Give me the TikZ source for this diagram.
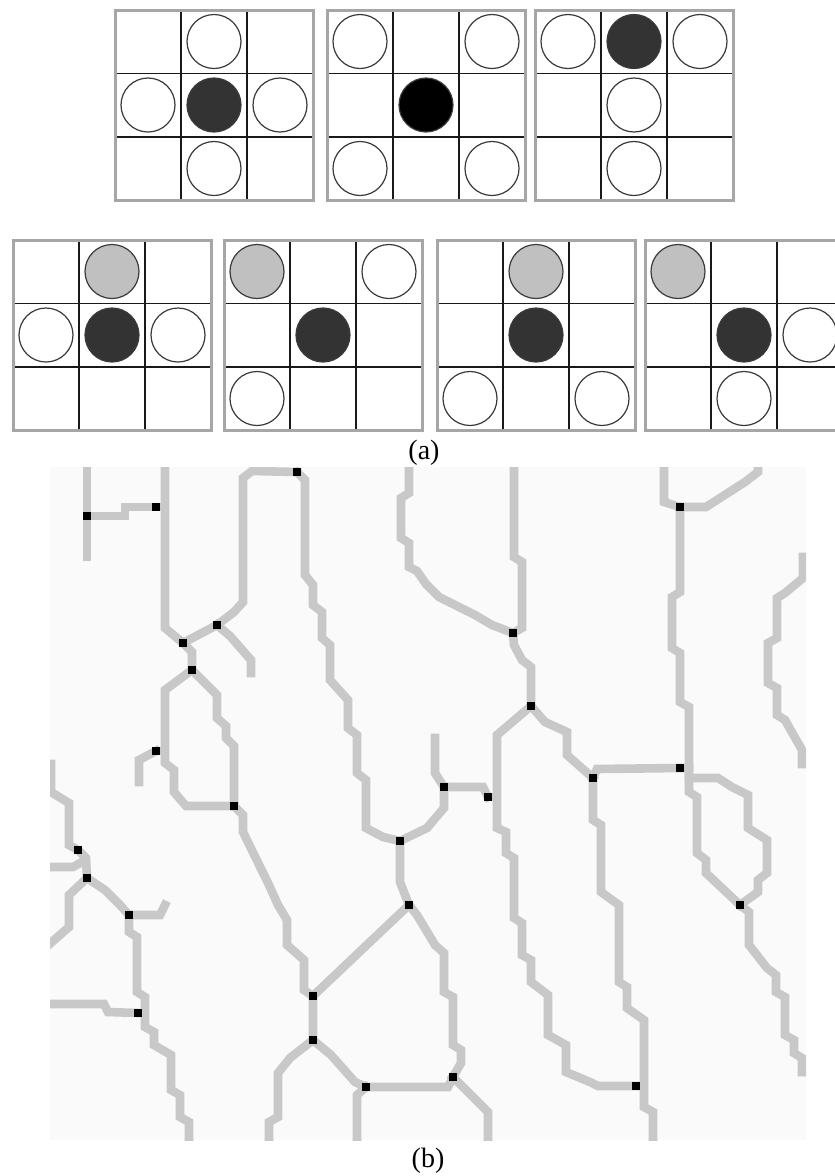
\documentclass[tikz,border=0pt]{standalone}
\usepackage{fontspec}
\setmainfont{Liberation Serif}

\definecolor{discdark}{HTML}{333333}
\definecolor{discgrey}{HTML}{C0C0C0}
\definecolor{discline}{HTML}{3A3A3A}
\definecolor{framegrey}{HTML}{A6A6A6}
\definecolor{skelgrey}{HTML}{C8C8C8}
\definecolor{panelbg}{HTML}{FAFAFA}

% one 3x3 stencil: left edge, top edge
\newcommand{\stencil}[2]{%
  \draw[stencilgrid] (#1,#2+63.5) -- ++(198,0) (#1,#2+127) -- ++(198,0)
    (#1+66,#2) -- ++(0,190) (#1+132,#2) -- ++(0,190);
  \draw[stencilframe] (#1,#2) rectangle ++(198,190);}
% disc in column #3, row #4 of the stencil at (#1,#2)
\newcommand{\disc}[5]{\draw[#5] (#1+66*#3-33,#2+63.5*#4-32) circle[radius=27];}

\begin{document}
\begin{tikzpicture}[
    x=1pt, y=-1pt,
    stencilgrid/.style={draw=black!90, line width=1.6pt},
    stencilframe/.style={draw=framegrey, line width=3pt},
    emptydisc/.style={draw=discline, line width=1.2pt, fill=white},
    darkdisc/.style={emptydisc, fill=discdark},
    blackdisc/.style={emptydisc, fill=black},
    greydisc/.style={emptydisc, fill=discgrey},
    skeleton/.style={draw=skelgrey, line width=8.6pt, line cap=rect},
    junction/.style={rectangle, fill=black, inner sep=0pt, minimum size=8.6pt},
    lbl/.style={font=\fontsize{28}{32}\selectfont, anchor=base}
  ]
  \useasboundingbox (0,0) rectangle (835,1176);
  \fill[white] (0,0) rectangle (835,1176);
  \clip (0,0) rectangle (835,1176);

  % (a) upper row
  \stencil{115}{10}
  \disc{115}{10}{2}{1}{emptydisc} \disc{115}{10}{1}{2}{emptydisc}
  \disc{115}{10}{2}{2}{darkdisc}  \disc{115}{10}{3}{2}{emptydisc}
  \disc{115}{10}{2}{3}{emptydisc}
  \stencil{327}{10}
  \disc{327}{10}{1}{1}{emptydisc} \disc{327}{10}{3}{1}{emptydisc}
  \disc{327}{10}{2}{2}{blackdisc}
  \disc{327}{10}{1}{3}{emptydisc} \disc{327}{10}{3}{3}{emptydisc}
  \stencil{535}{10}
  \disc{535}{10}{1}{1}{emptydisc} \disc{535}{10}{2}{1}{darkdisc}
  \disc{535}{10}{3}{1}{emptydisc} \disc{535}{10}{2}{2}{emptydisc}
  \disc{535}{10}{2}{3}{emptydisc}

  % (a) lower row
  \stencil{13}{240}
  \disc{13}{240}{2}{1}{greydisc}  \disc{13}{240}{1}{2}{emptydisc}
  \disc{13}{240}{2}{2}{darkdisc}  \disc{13}{240}{3}{2}{emptydisc}
  \stencil{224}{240}
  \disc{224}{240}{1}{1}{greydisc} \disc{224}{240}{3}{1}{emptydisc}
  \disc{224}{240}{2}{2}{darkdisc} \disc{224}{240}{1}{3}{emptydisc}
  \stencil{437}{240}
  \disc{437}{240}{2}{1}{greydisc} \disc{437}{240}{2}{2}{darkdisc}
  \disc{437}{240}{1}{3}{emptydisc} \disc{437}{240}{3}{3}{emptydisc}
  \stencil{645}{240}
  \disc{645}{240}{1}{1}{greydisc} \disc{645}{240}{2}{2}{darkdisc}
  \disc{645}{240}{3}{2}{emptydisc} \disc{645}{240}{2}{3}{emptydisc}

  \node[lbl] (lbla) at (424,459) {(a)};

  % (b) skeleton
  \fill[panelbg] (50,467) rectangle (806,1140);

  \coordinate (j1) at (297,472);
  \coordinate (j2) at (87,516);
  \coordinate (j3) at (156,507);
  \coordinate (j4) at (217,625);
  \coordinate (j5) at (183,643);
  \coordinate (j6) at (192,670);
  \coordinate (j7) at (513,633);
  \coordinate (j8) at (680,507);
  \coordinate (j9) at (531,706);
  \coordinate (j10) at (156,751);
  \coordinate (j11) at (234,806);
  \coordinate (j12) at (444,787);
  \coordinate (j13) at (488,797);
  \coordinate (j14) at (593,778);
  \coordinate (j15) at (680,768);
  \coordinate (j16) at (400,841);
  \coordinate (j17) at (78,850);
  \coordinate (j18) at (87,878);
  \coordinate (j19) at (129,915);
  \coordinate (j20) at (409,905);
  \coordinate (j21) at (740,905);
  \coordinate (j22) at (138,1013);
  \coordinate (j23) at (313,996);
  \coordinate (j24) at (313,1040);
  \coordinate (j25) at (366,1087);
  \coordinate (j26) at (453,1077);
  \coordinate (j27) at (636,1086);

  \begin{scope}
    \clip (50,467) rectangle (806,1140);
    \begin{scope}[every path/.style={skeleton}]
    \path (87,460) -- (87,557);
    \path (j2) -- (125,516) -- (125,507) -- (j3) -- (165,507);
    \path (165,460) -- (165,628) -- (j5) -- (200,634) -- (j4) -- (234,612)
      -- (243,602) -- (243,478) -- (252,471) -- (j1);
    \path (j4) -- (230,636) -- (251,660) -- (251,673);
    \path (j5) -- (192,652) -- (j6);
    \path (j6) -- (165,690) -- (165,763) -- (174,770) -- (174,792) -- (186,806) -- (j11);
    \path (j10) -- (165,751);
    \path (j10) -- (139,760) -- (139,782);
    \path (j6) -- (217,695) -- (217,718) -- (226,726) -- (226,738) -- (234,746) -- (j11);
    \path (j11) -- (243,815) -- (243,832) -- (269,885) -- (278,905) -- (287,920) -- (287,945)
      -- (304,960) -- (304,990) -- (j23);
    \path (j1) -- (305,480) -- (305,575) -- (313,585) -- (313,605) -- (322,612) -- (322,638)
      -- (330,645) -- (330,680) -- (348,700) -- (348,728) -- (357,735) -- (357,773) -- (366,780)
      -- (366,828) -- (383,837) -- (j16);
    \path (409,460) -- (409,493) -- (401,498) -- (401,538) -- (409,543) -- (409,567) -- (417,571)
      -- (426,584) -- (439,597) -- (457,606) -- (475,615) -- (492,625) -- (j7);
    \path (514,460) -- (514,557) -- (522,562) -- (522,628) -- (j7);
    \path (j7) -- (514,645) -- (522,660) -- (531,667) -- (j9);
    \path (j9) -- (545,722) -- (567,732) -- (567,755) -- (j14);
    \path (j9) -- (497,735) -- (497,828) -- (506,832) -- (506,853) -- (514,858) -- (514,918)
      -- (522,923) -- (522,955) -- (531,960) -- (531,982) -- (548,995) -- (548,1035) -- (566,1045)
      -- (566,1072) -- (590,1082) -- (598,1086) -- (j27);
    \path (j13) -- (497,797);
    \path (435,738) -- (435,773) -- (j12) -- (483,787) -- (j13);
    \path (j12) -- (444,808) -- (427,828) -- (j16);
    \path (j16) -- (400,882) -- (j20);
    \path (j20) -- (j23) -- (j24);
    \path (j24) -- (290,1058) -- (278,1073) -- (278,1117) -- (269,1122) -- (269,1150);
    \path (j24) -- (331,1055) -- (355,1082) -- (j25) -- (448,1087) -- (j26);
    \path (j25) -- (357,1095) -- (357,1150);
    \path (j20) -- (417,915) -- (435,945) -- (444,953) -- (444,992) -- (453,997) -- (453,1045)
      -- (461,1050) -- (461,1063) -- (j26);
    \path (j26) -- (488,1112) -- (488,1150);
    \path (j14) -- (597,769) -- (j15) -- (689,768);
    \path (j14) -- (593,820) -- (601,825) -- (601,892) -- (619,905) -- (619,982) -- (627,987)
      -- (627,1008) -- (644,1020) -- (644,1107) -- (653,1112) -- (653,1150);
    \path (664,460) -- (664,502) -- (j8) -- (680,592) -- (672,597) -- (672,648) -- (680,653)
      -- (680,702) -- (689,707) -- (689,792) -- (697,797) -- (697,853) -- (706,860) -- (706,873)
      -- (j21);
    \path (j8) -- (706,507) -- (745,482) -- (758,472) -- (758,460);
    \path (689,778) -- (718,778) -- (732,787) -- (748,795) -- (748,828) -- (767,840) -- (767,873)
      -- (758,880) -- (758,892) -- (j21);
    \path (j21) -- (749,912) -- (749,945) -- (767,968) -- (776,975) -- (776,992) -- (785,997)
      -- (785,1035) -- (794,1040) -- (794,1053) -- (802,1058) -- (802,1072);
    \path (803,557) -- (803,578) -- (785,593) -- (777,598) -- (777,638) -- (768,643) -- (768,683)
      -- (777,688) -- (777,715) -- (785,720) -- (802,750) -- (802,764);
    \path (51,764) -- (51,792) -- (69,803) -- (69,845) -- (j17) -- (86,858) -- (j18);
    \path (82,862) -- (73,867) -- (45,867);
    \path (j18) -- (69,895) -- (69,927) -- (45,948);
    \path (j18) -- (105,890) -- (120,905) -- (j19) -- (160,915) -- (165,905);
    \path (j19) -- (129,932) -- (137,937) -- (137,992) -- (145,997) -- (145,1027) -- (154,1032)
      -- (154,1045) -- (171,1055) -- (171,1090) -- (180,1095) -- (180,1117) -- (189,1122) -- (189,1150);
    \path (j22) -- (145,1013);
    \path (j22) -- (108,1012) -- (104,1004) -- (45,1004);
    \end{scope}
  \end{scope}

  \foreach \k in {1,...,27}
    \node[junction] (dot\k) at (j\k) {};

  \node[lbl] (lblb) at (428,1167) {(b)};
\end{tikzpicture}
\end{document}
